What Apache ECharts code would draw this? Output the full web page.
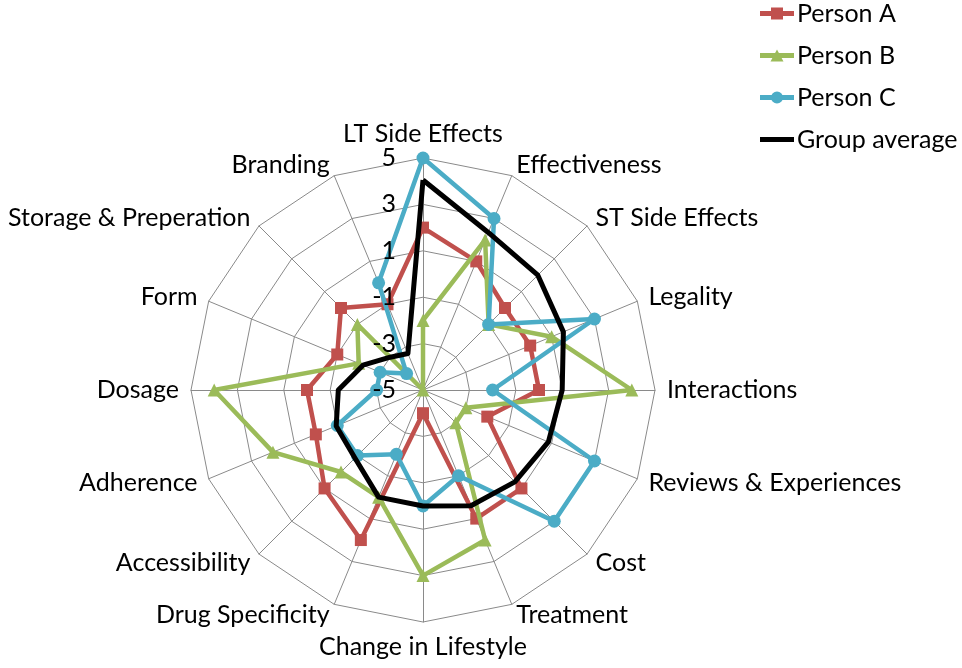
<!DOCTYPE html>
<html>
<head>
<meta charset="utf-8">
<script src="https://cdn.jsdelivr.net/npm/echarts@6/dist/echarts.min.js"></script>
<style>
  html, body { margin: 0; padding: 0; background: #fff; }
  #chart { width: 962px; height: 668px; }
</style>
</head>
<body>
<div id="chart"></div>
<script>
// Indicators, clockwise from the top
var categories = ['LT Side Effects', 'Effectiveness', 'ST Side Effects', 'Legality', 'Interactions',
  'Reviews & Experiences', 'Cost', 'Treatment', 'Change in Lifestyle', 'Drug Specificity',
  'Accessibility', 'Adherence', 'Dosage', 'Form', 'Storage & Preperation', 'Branding'];

var personA = [2, 1, 0, 0, 0, -2, 1, 1, -4, 2, 1, 0, 0, -1, 0, -1];
var personB = [-2, 2, -1, 1, 4, -3, -3, 2, 3, 0, 0, 2, 4, -2, -1, -5];
var personC = [5, 3, -1, 3, -2, 3, 3, -1, 0, -2, -1, -1, -3, -3, -4, 0];
var groupAverage = [4.05, 2.35, 2.0, 1.55, 1.0, 0.85, 0.6, 0.4, 0.0, 0.0, -0.85, -0.95, -1.35, -2.2, -3.0, -3.3];

var axisMin = -5, axisMax = 5, splitCount = 5;
var seriesNames = ['Person A', 'Person B', 'Person C', 'Group average'];

// ECharts radar lays indicators counter-clockwise; reorder so they read clockwise.
function clockwise(arr) {
  var out = [arr[0]];
  for (var i = arr.length - 1; i >= 1; i--) out.push(arr[i]);
  return out;
}

var FONT = 'Lato';
var FS = 25;

var gridIndicators = clockwise(categories).map(function (name) {
  return { name: name, min: axisMin, max: axisMax };
});
var labelIndicators = clockwise(categories).map(function (name, i) {
  var ind = { name: name, min: axisMin, max: axisMax };
  if (i === 0) {
    ind.axisLabel = { show: true, color: '#000', fontSize: FS, fontFamily: FONT, margin: 27 };
  }
  return ind;
});

var iconSquare = 'path://M0,0L0.01,0L0,0.01Z M0,12L0.01,12L0,11.99Z M0,3.6L34,3.6L34,8.4L0,8.4Z M11,0L23,0L23,12L11,12Z';
var iconTri = 'path://M0,0L0.01,0L0,0.01Z M0,12L0.01,12L0,11.99Z M0,3.6L34,3.6L34,8.4L0,8.4Z M17,0L23.5,12L10.5,12Z';
var iconCircle = 'path://M0,0L0.01,0L0,0.01Z M0,12L0.01,12L0,11.99Z M0,3.6L34,3.6L34,8.4L0,8.4Z M11,6A6,6,0,1,1,23,6A6,6,0,1,1,11,6Z';
var iconLine = 'path://M0,0L0.01,0L0,0.01Z M0,12L0.01,12L0,11.99Z M0,3.5L34,3.5L34,8.5L0,8.5Z';

var colors = ['#C0504D', '#9BBB59', '#4BACC6', '#000000'];
var symbols = ['rect', 'triangle', 'circle', 'none'];
var symbolSizes = [12, 13, 13, 0];
var values = [personA, personB, personC, groupAverage];
var widths = [4.5, 4.5, 4.5, 5];

var series = seriesNames.map(function (name, k) {
  return {
    type: 'radar',
    name: name,
    radarIndex: 0,
    symbol: symbols[k],
    symbolSize: symbolSizes[k],
    itemStyle: { color: colors[k] },
    lineStyle: { color: colors[k], width: widths[k] },
    data: [{ name: name, value: clockwise(values[k]) }],
    z: 2 + k
  };
});

var chart = echarts.init(document.getElementById('chart'), null, { renderer: 'canvas' });
chart.setOption({
  animation: false,
  color: colors,
  textStyle: { fontFamily: FONT },
  legend: {
    orient: 'vertical',
    left: 755,
    top: -4,
    itemWidth: 34,
    itemHeight: 12,
    itemGap: 17,
    textStyle: { color: '#000', fontSize: FS, fontFamily: FONT, padding: [0, 0, 0, -2] },
    data: [
      { name: 'Person A', icon: iconSquare },
      { name: 'Person B', icon: iconTri },
      { name: 'Person C', icon: iconCircle },
      { name: 'Group average', icon: iconLine }
    ]
  },
  radar: [{
    center: [423, 390],
    radius: 232,
    startAngle: 90,
    shape: 'polygon',
    splitNumber: splitCount,
    nameGap: 12,
    axisName: { color: '#000', fontSize: FS, fontFamily: FONT },
    axisLine: { lineStyle: { color: '#8a8a8a', width: 1 } },
    splitLine: { lineStyle: { color: '#8a8a8a', width: 1 } },
    splitArea: { show: false },
    axisTick: { show: false },
    axisLabel: { show: false },
    indicator: gridIndicators
  }, {
    center: [423, 390],
    radius: 232,
    startAngle: 90,
    shape: 'polygon',
    splitNumber: splitCount,
    z: 30,
    axisName: { show: false },
    axisLine: { show: false },
    splitLine: { show: false },
    splitArea: { show: false },
    axisTick: { show: false },
    axisLabel: { show: false },
    indicator: labelIndicators
  }],
  series: series
});
</script>
</body>
</html>
